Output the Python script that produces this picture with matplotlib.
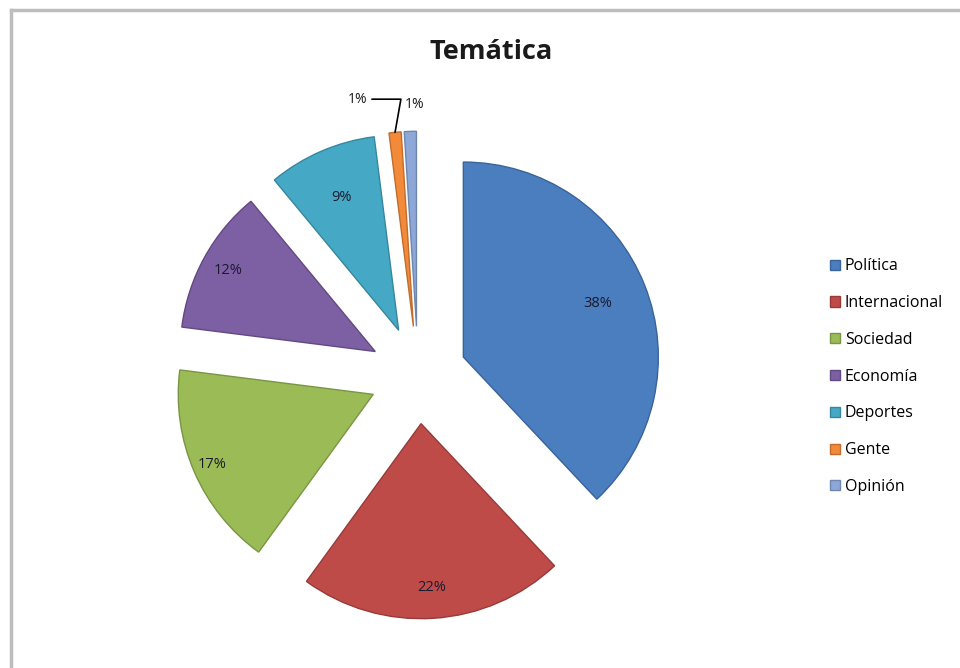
import numpy as np
import matplotlib.pyplot as plt
from matplotlib.lines import Line2D

categories = ["Política", "Internacional", "Sociedad", "Economía", "Deportes", "Gente", "Opinión"]
values = [38, 22, 17, 12, 9, 1, 1]
colors = ["#4A7EBF", "#BF4B48", "#9ABB55", "#7D5FA3", "#45A9C6", "#F28A3A", "#8DA8D8"]
edge_colors = ["#3A6398", "#963B39", "#7A9544", "#624A81", "#36869D", "#C06D2E", "#6F86AD"]
label_dist = [0.74, 0.84, 0.9, 0.86, 0.74, None, None]

plt.rcParams["font.family"] = ["Open Sans", "DejaVu Sans"]

fig = plt.figure(figsize=(9.6, 6.68), dpi=100)

# marco gris del gráfico
fig.add_artist(Line2D([11 / 960, 1.0], [1 - 10 / 668, 1 - 10 / 668], color="#BDBDBD", lw=2.5))
fig.add_artist(Line2D([11 / 960, 11 / 960], [0.0, 1 - 10 / 668], color="#BDBDBD", lw=2.5))

r_px = 195
cx, cy = 418, 668 - 375
half = 1.5 * r_px
ax = fig.add_axes([(cx - half) / 960, (cy - half) / 668, 2 * half / 960, 2 * half / 668])

wedges, texts = ax.pie(values, colors=colors, startangle=90, counterclock=False,
                       explode=[0.25] * len(values),
                       wedgeprops=dict(linewidth=1.0))
for w, ec in zip(wedges, edge_colors):
    w.set_edgecolor(ec)

for w, d, v in zip(wedges, label_dist, values):
    mid = np.deg2rad((w.theta1 + w.theta2) / 2)
    ox, oy = w.center
    if d is not None:
        ax.text(ox + d * np.cos(mid), oy + d * np.sin(mid), f"{v}%",
                ha="center", va="center", fontsize=10.5, color="#1A1A2E")

# etiquetas de las porciones pequeñas
g, o = wedges[5], wedges[6]
gm = np.deg2rad((g.theta1 + g.theta2) / 2)
gx, gy = g.center[0] + np.cos(gm), g.center[1] + np.sin(gm)
ax.annotate(f"{values[5]}%", xy=(gx, gy), xytext=(gx - 0.14, gy + 0.17),
            ha="right", va="center", fontsize=10, color="#1A1A1A",
            arrowprops=dict(arrowstyle="-", color="black", lw=1.2, shrinkA=1, shrinkB=0,
                            connectionstyle="angle,angleA=0,angleB=80,rad=0"))
om = np.deg2rad((o.theta1 + o.theta2) / 2)
ox2, oy2 = o.center[0] + np.cos(om), o.center[1] + np.sin(om)
ax.text(ox2 + 0.02, oy2 + 0.14, f"{values[6]}%", ha="center", va="center",
        fontsize=10, color="#1A1A1A")

ax.set_xlim(-1.5, 1.5)
ax.set_ylim(-1.5, 1.5)
ax.set_aspect("equal")
ax.axis("off")

fig.text(491 / 960, 1 - 52 / 668, "Temática", ha="center", va="center",
         fontsize=19.5, fontweight="bold", color="#1A1A1A")

leg = fig.legend(wedges, categories, loc="upper left", bbox_to_anchor=(824 / 960, 1 - 252 / 668),
                 frameon=False, fontsize=11.5, handlelength=0.6, handleheight=0.6,
                 handletextpad=0.3, labelspacing=1.3, borderaxespad=0)

fig.savefig("out.png", dpi=100, facecolor="white")
